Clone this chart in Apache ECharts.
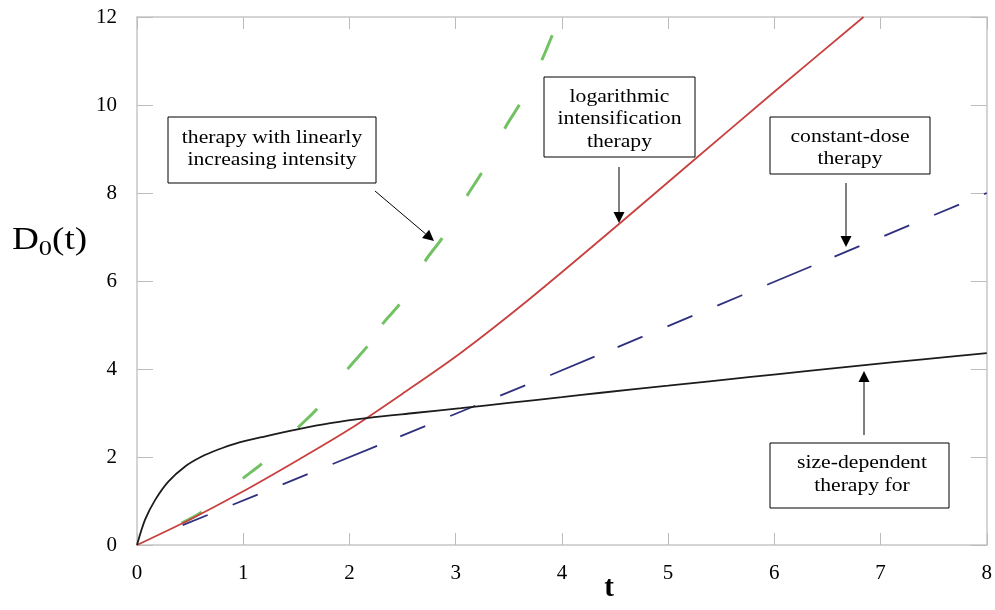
<!DOCTYPE html>
<html>
<head>
<meta charset="utf-8">
<title>D0(t) therapies</title>
<script src="https://cdn.jsdelivr.net/npm/echarts@6/dist/echarts.min.js"></script>
<style>
  html, body { margin: 0; padding: 0; background: #fff; }
  #main { width: 995px; height: 610px; }
</style>
</head>
<body>
<div id="main"></div>
<script>
// axis ticks
var xTicks = [0, 1, 2, 3, 4, 5, 6, 7, 8]
var yTicks = [0, 2, 4, 6, 8, 10, 12]

// size-dependent therapy (black)
var sizeT = [0, 0.075, 0.17, 0.295, 0.45, 0.61, 0.765, 0.92, 1.19, 1.51, 1.82, 2.18, 2.61, 3.05, 3.5, 4.0, 4.37, 5.0, 5.78, 6.3, 6.85, 7.4, 8.0]
var sizeD = [0, 0.57, 1.02, 1.44, 1.78, 2.01, 2.17, 2.30, 2.46, 2.63, 2.77, 2.89, 3.0, 3.11, 3.23, 3.36, 3.46, 3.62, 3.82, 3.95, 4.09, 4.22, 4.36]

// logarithmic intensification therapy (red)
var logT = [0, 0.5, 0.97, 1.5, 2.0, 2.5, 3.05, 3.71, 4.56, 5.2, 6.0, 6.84]
var logD = [0, 0.58, 1.18, 1.91, 2.63, 3.44, 4.37, 5.62, 7.34, 8.66, 10.3, 12.0]

// constant-dose therapy (blue dashed)
var constT = [0.43, 3.9, 5.69, 8.0]
var constD = [0.45, 3.87, 5.67, 8.0]

// therapy with linearly increasing intensity (green dashed)
var linT = [0.42, 0.61, 1.0, 1.18, 1.52, 1.70, 1.99, 2.18, 2.32, 2.48, 2.72, 2.88, 3.11, 3.25, 3.47, 3.61, 3.82, 3.92, 4.0]
var linD = [0.5, 0.75, 1.52, 1.86, 2.68, 3.11, 4.02, 4.55, 5.05, 5.5, 6.48, 7.0, 7.95, 8.48, 9.5, 10.05, 11.07, 11.64, 12.0]

// annotation texts
var linLabel = ['therapy with linearly', 'increasing intensity']
var logLabel = ['logarithmic', 'intensification', 'therapy']
var constLabel = ['constant-dose', 'therapy']
var sizeLabel = ['size-dependent', 'therapy for']

function pairs(xs, ys) {
  return xs.map(function (x, i) { return [x, ys[i]] })
}

var serif = '"Liberation Serif", "Times New Roman", serif'
var frameColor = '#c6c6c6'

// 文本框
function box(x, y, w, h, lines, cx, ys) {
  var els = [{
    type: 'rect',
    shape: { x: x, y: y, width: w, height: h },
    style: { fill: '#fff', stroke: '#000', lineWidth: 1 },
    z: 100
  }]
  lines.forEach(function (t, i) {
    els.push({
      type: 'text',
      x: cx, y: ys[i], scaleX: 1.14,
      style: { text: t, x: 0, y: 0, align: 'center', verticalAlign: 'middle', font: '19px ' + serif, fill: '#000' },
      z: 101
    })
  })
  return els
}

// 箭头
function arrow(x1, y1, x2, y2) {
  var dx = x2 - x1, dy = y2 - y1
  var len = Math.sqrt(dx * dx + dy * dy)
  var ux = dx / len, uy = dy / len
  var hl = 11, hw = 5.5
  var bx = x2 - ux * hl, by = y2 - uy * hl
  return [{
    type: 'line',
    shape: { x1: x1, y1: y1, x2: bx, y2: by },
    style: { stroke: '#000', lineWidth: 1 },
    z: 100
  }, {
    type: 'polygon',
    shape: { points: [[x2, y2], [bx - uy * hw, by + ux * hw], [bx + uy * hw, by - ux * hw]] },
    style: { fill: '#000' },
    z: 100
  }]
}

var graphics = [].concat(
  box(168, 117, 208, 66, linLabel, 272, [138, 160]),
  box(544, 77, 151, 80, logLabel, 619.5, [97, 119, 142]),
  box(770, 117, 160, 57, constLabel, 850, [137, 159]),
  box(770, 443, 179, 65, sizeLabel, 862, [463, 486]),
  arrow(375, 191, 434, 241),
  arrow(619, 167, 619, 223),
  arrow(846, 183, 846, 247),
  arrow(864, 435, 864, 371),
  [{
    type: 'text',
    x: 12, y: 241, scaleX: 1.2,
    style: {
      text: '{a|D}{b|0}{a|(t)}',
      x: 0, y: 0, verticalAlign: 'middle',
      rich: {
        a: { font: '31px ' + serif, fill: '#000', verticalAlign: 'middle' },
        b: { font: '22px ' + serif, fill: '#000', padding: [16, 0, 0, 0] }
      }
    }
  }, {
    type: 'text',
    x: 609, y: 589,
    style: { text: 't', x: 0, y: 0, align: 'center', verticalAlign: 'middle', font: 'bold 29px ' + serif, fill: '#000' }
  }]
)

var axisCommon = {
  type: 'value',
  axisLine: { show: true, onZero: false, lineStyle: { color: frameColor, width: 1.5 } },
  axisTick: { show: true, inside: true, length: 12, lineStyle: { color: '#bcbcbc', width: 1 } },
  splitLine: { show: false }
}

var option = {
  animation: false,
  backgroundColor: '#fff',
  grid: { left: 137, right: 8, top: 17, bottom: 65 },
  xAxis: [
    Object.assign({}, axisCommon, {
      min: 0, max: 8, interval: 1, position: 'bottom',
      axisLabel: { margin: 18, color: '#000', fontSize: 21, fontFamily: serif }
    }),
    Object.assign({}, axisCommon, {
      min: 0, max: 8, interval: 1, position: 'top',
      axisLabel: { show: false }
    })
  ],
  yAxis: [
    Object.assign({}, axisCommon, {
      min: 0, max: 12, interval: 2, position: 'left',
      axisTick: { show: true, inside: true, length: 16, lineStyle: { color: '#bcbcbc', width: 1 } },
      axisLabel: { margin: 20, color: '#000', fontSize: 21, fontFamily: serif }
    }),
    Object.assign({}, axisCommon, {
      min: 0, max: 12, interval: 2, position: 'right',
      axisTick: { show: true, inside: true, length: 16, lineStyle: { color: '#bcbcbc', width: 1 } },
      axisLabel: { show: false }
    })
  ],
  series: [
    {
      name: 'linear intensity',
      type: 'line',
      data: pairs(linT, linD),
      smooth: 0.3,
      symbol: 'none',
      clip: true,
      lineStyle: { color: '#72c264', width: 3, type: [23, 53, 24, 51, 27, 50, 30, 27, 26, 50, 29, 49, 27, 50, 28, 50, 27, 200] }
    },
    {
      name: 'constant dose',
      type: 'line',
      data: pairs(constT, constD),
      symbol: 'none',
      clip: true,
      lineStyle: { color: '#30307f', width: 1.8, type: [27, 27, 27, 27, 27, 27, 48, 25] }
    },
    {
      name: 'logarithmic',
      type: 'line',
      data: pairs(logT, logD),
      smooth: 0.3,
      symbol: 'none',
      clip: true,
      lineStyle: { color: '#c8403f', width: 1.8 }
    },
    {
      name: 'size-dependent',
      type: 'line',
      data: pairs(sizeT, sizeD),
      smooth: 0.3,
      symbol: 'none',
      clip: true,
      lineStyle: { color: '#1c1c1c', width: 1.8 }
    }
  ],
  graphic: graphics
}

var myChart = echarts.init(document.getElementById('main'), null, { renderer: 'canvas' })
myChart.setOption(option)
</script>
</body>
</html>
